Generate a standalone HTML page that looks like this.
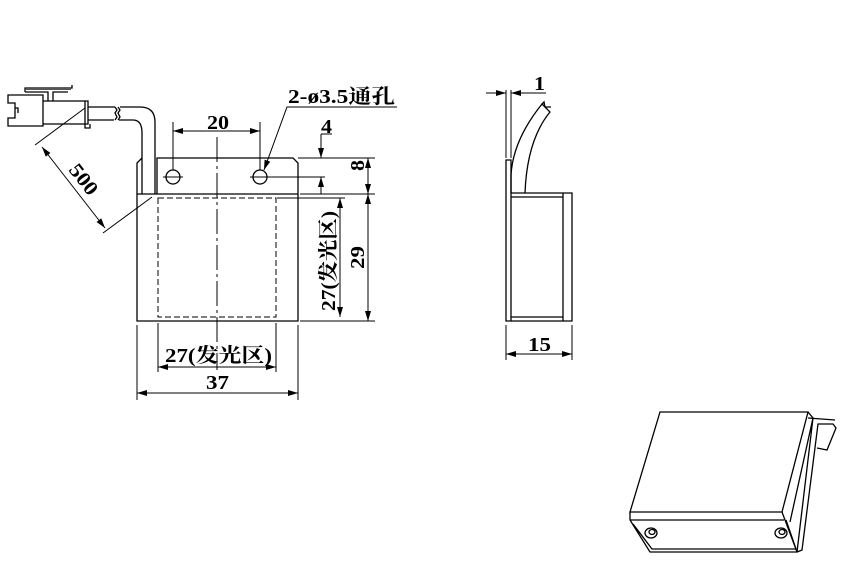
<!DOCTYPE html>
<html><head><meta charset="utf-8"><style>html,body{margin:0;padding:0;background:#fff}svg{display:block}text{font-family:"Liberation Serif","Noto Serif CJK SC",serif;font-weight:bold;fill:#000}</style></head>
<body>
<svg width="842" height="578" viewBox="0 0 842 578" xmlns="http://www.w3.org/2000/svg">
<defs>
<marker id="a" viewBox="0 0 10 6" refX="10" refY="3" markerWidth="10" markerHeight="6" orient="auto-start-reverse" markerUnits="userSpaceOnUse"><path d="M0,0L10,3L0,6z" fill="#000"/></marker>
</defs>
<g fill="none" stroke="#000" stroke-width="1.3">
<path d="M8,95 H43 V126 H8 V118 H15 V103 H8 Z"/>
<path d="M15,108 H18 V113"/>
<path d="M43,101 H88 V124 H43"/>
<path d="M85,101 V128 H90 V124"/>
<path d="M25,92 V88 H72 V85 M25,92 H48 V101 M53,101 V92 H68"/>
<rect x="26" y="88" width="45" height="2" fill="#555" stroke="none"/>
<path d="M88,107 H115 M88,120 H114"/>
<path d="M115,107 l2,3 l-2,3 l2,4 l-2,3 M118,107 l2,3 l-2,3 l2,4 l-2,3"/>
<path d="M120,107 H140 Q155,107 155,122 V194 M119,120 H133 Q142,120 142,133 V194"/>
<path d="M137,194 V321 H298 V163 L293,158 H157 V194"/>
<path d="M137,194 V163 L142,158"/>
<path d="M137,194 H298"/>
<rect x="158" y="198" width="118" height="119" stroke-dasharray="6,3" stroke-width="1"/>
<path d="M217,137 V370" stroke-dasharray="25,4,3,4" stroke-width="1"/>
<circle cx="173" cy="177" r="7"/><circle cx="260" cy="177" r="7"/>
<path d="M163,177 H183 M250,177 H325" stroke-width="1"/>
<path d="M173,122 V170 M260,122 V170" stroke-width="1"/>
<path d="M173,131 H260" stroke-width="1" marker-start="url(#a)" marker-end="url(#a)"/>
<path d="M397,107 H287 L264,170" stroke-width="1" marker-end="url(#a)"/>
<path d="M298,158 H375 M300,194 H375 M277,198 H345 M300,321 H375" stroke-width="1"/>
<path d="M321,134 V158" stroke-width="1" marker-end="url(#a)"/>
<path d="M321,194 V177" stroke-width="1" marker-end="url(#a)"/>
<path d="M321,134 H332" stroke-width="1"/>
<path d="M368,158 V194" stroke-width="1" marker-start="url(#a)" marker-end="url(#a)"/>
<path d="M368,194 V321" stroke-width="1" marker-start="url(#a)" marker-end="url(#a)"/>
<path d="M340,198 V317" stroke-width="1" marker-start="url(#a)" marker-end="url(#a)"/>
<path d="M137,325 V400 M298,325 V400 M158,323 V372 M276,323 V372" stroke-width="1"/>
<path d="M158,367 H276" stroke-width="1" marker-start="url(#a)" marker-end="url(#a)"/>
<path d="M137,393 H298" stroke-width="1" marker-start="url(#a)" marker-end="url(#a)"/>
<path d="M85,108 L35,145 M152,197 L103,233" stroke-width="1"/>
<path d="M42,147 L105,228" stroke-width="1" marker-start="url(#a)" marker-end="url(#a)"/>
<path d="M506,321 V160 H511 V321 Z"/>
<path d="M511,193 H572 V321 H511 M563,193 V321 M511,197 H563 M511,317 H563"/>
<path d="M511,193 V175 Q513,140 542,104 L550,112 Q527,140 525,193"/>
<path d="M542,104 l2,-2 l1,5 l6,0" />
<path d="M506,90 V158 M511,90 V158" stroke-width="1"/>
<path d="M486,93 H506" stroke-width="1" marker-end="url(#a)"/>
<path d="M532,93 H511" stroke-width="1" marker-end="url(#a)"/>
<path d="M532,93 H546" stroke-width="1"/>
<path d="M506,325 V360 M572,325 V360" stroke-width="1"/>
<path d="M506,354 H572" stroke-width="1" marker-start="url(#a)" marker-end="url(#a)"/>
<path d="M660,412 H808 L782,512 H630 Z"/>
<path d="M630,512 V520 L650,552 H797 L782,512 M630,520 H784 M633,524 L652,549 H796 L786,520"/>
<path d="M808,412 L813,418 L797,552 M813,418 L790,522 M797,552 L802,550 L818,424 H833 L836,428 L827,450 L817,448"/>
<path d="M808,418 L835,420"/>
<ellipse cx="651" cy="533" rx="6" ry="5"/><ellipse cx="781" cy="533" rx="6" ry="5"/>
<ellipse cx="652" cy="532" rx="3" ry="2.5"/><ellipse cx="782" cy="532" rx="3" ry="2.5"/>
</g>
<g font-size="20">
<text x="207" y="129" textLength="22" lengthAdjust="spacingAndGlyphs">20</text>
<text x="288" y="103" textLength="107" lengthAdjust="spacingAndGlyphs">2-ø3.5通孔</text>
<text x="321" y="133" textLength="11" lengthAdjust="spacingAndGlyphs">4</text>
<text x="165" y="362" textLength="107" lengthAdjust="spacingAndGlyphs">27(发光区)</text>
<text x="206" y="389" textLength="23" lengthAdjust="spacingAndGlyphs">37</text>
<text x="534" y="90" textLength="11" lengthAdjust="spacingAndGlyphs">1</text>
<text x="528" y="351" textLength="23" lengthAdjust="spacingAndGlyphs">15</text>
<text transform="translate(364,171) rotate(-90)" textLength="11" lengthAdjust="spacingAndGlyphs">8</text>
<text transform="translate(364,269) rotate(-90)" textLength="23" lengthAdjust="spacingAndGlyphs">29</text>
<text transform="translate(335,311) rotate(-90)" textLength="100" lengthAdjust="spacingAndGlyphs">27(发光区)</text>
<text transform="translate(68,170) rotate(52)" textLength="34" lengthAdjust="spacingAndGlyphs">500</text>
</g>
</svg>
</body></html>
